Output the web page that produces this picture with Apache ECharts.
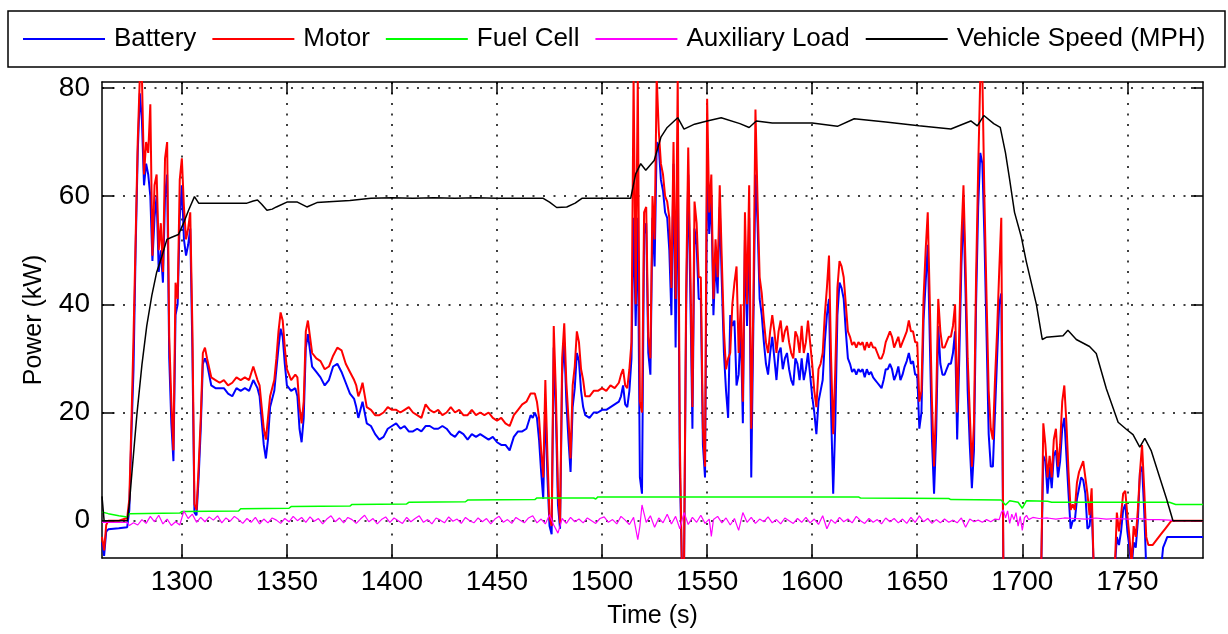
<!DOCTYPE html>
<html>
<head>
<meta charset="utf-8">
<script src="https://cdn.jsdelivr.net/npm/echarts@6/dist/echarts.min.js"></script>
<style>
html,body{margin:0;padding:0;background:#fff;}
#chart{width:1228px;height:634px;}
</style>
</head>
<body>
<div id="chart"></div>
<script>
// ---- data (time in s, values in kW / MPH) ----
const SERIES_NAMES = ['Battery', 'Motor', 'Fuel Cell', 'Auxiliary Load', 'Vehicle Speed (MPH)'];
const X_TICKS = [1300, 1350, 1400, 1450, 1500, 1550, 1600, 1650, 1700, 1750];
const Y_TICKS = [0, 20, 40, 60, 80];

const motor = [
[1262,-3],[1263,-5.5],[1264,-0.8],[1265,0],[1270,0],[1274,0.5],[1275,4],[1276,18],[1277,34],[1278,52],[1279,70],[1280,82],[1281,82],[1282,64],[1283,70],[1284,68],[1285,77],[1286,49],[1287,62],[1288,64],[1289,50],[1290,55],[1291,46],[1292,67],[1293,70],[1294,34],[1295,22],[1296,13],[1297,44],[1298,41],[1299,63],[1300,67],[1301,58],[1302,52],[1303,54],[1304,57],[1305,36],[1306,3],[1307,2],[1308,10],[1309,19],[1310,31],[1311,32],
[1312,30],[1314,26.5],[1316,26],[1318,25.5],[1320,26],[1322,25],[1324,25.5],[1326,26.5],[1328,26],[1330,26.5],[1332,26],[1334,28.5],[1336,26],[1337,25],[1338,21],[1339,17],[1340,15],[1341,19],[1342,23],[1344,26],[1345,30],[1346,35],[1347,38.5],[1348,37],[1349,32],[1350,28],[1352,26],[1354,27],[1355,26.5],[1356,21],[1357,18],[1358,22],[1359,35],[1360,37],[1361,34],[1362,31],[1364,30],[1366,29.5],[1368,28],[1370,28.5],[1372,30.5],[1374,32],[1376,31.5],[1378,29],[1380,27.5],[1382,26],[1383,25],[1384,23],[1385,24],[1386,25.5],[1388,21],[1390,20.5],[1392,19.5],[1394,19.5],[1396,20],[1398,21],[1400,20.5],[1402,20.5],[1404,20],[1406,20.5],[1408,21],[1410,20],[1412,19.5],[1414,19],[1416,21.5],[1418,20.5],[1420,20],[1422,20.5],[1424,19.5],[1426,20],[1428,21],[1430,20],[1432,20.5],[1434,19.5],[1436,19.5],[1438,20.5],[1440,19.5],[1442,20],[1444,19.5],[1446,20],[1448,19],[1450,18.5],[1452,19],[1454,18],[1456,17.5],[1458,19.5],[1460,20.5],[1462,21.5],[1464,22],[1466,23.5],[1467,23.5],[1468,23.5],
[1469,22],[1470,19],[1471,13],[1472,8],[1473,26],[1474,12],[1475,0.5],[1476,-1],[1477,36],[1478,24],[1479,6],[1480,-0.5],[1481,30],[1482,36.5],[1483,25.5],[1484,19],[1485,11.5],[1486,25],[1487,28.5],[1488,35],[1489,33],[1490,28],[1491,26],[1492,23],[1494,23],[1496,24],[1498,24],[1500,24.5],[1502,24],[1504,25],[1506,24.5],[1508,25.5],[1509,27],[1510,28],[1511,25],[1512,24.5],[1513,28],[1514,33],[1515,82],[1516,40],[1517,82],[1518,22],[1519,20],[1520,57],[1521,58],[1522,34],[1523,30],[1524,60],[1525,52],[1526,82],[1527,72],[1528,66],[1529,64],[1530,60],[1531,59],[1532,56],[1533,43],[1534,70],[1535,41],[1536,82],[1537,15],[1538,-9],[1539,-9],[1540,42],[1541,69],[1542,47],[1543,21],[1544,59],[1545,55],[1546,45],[1547,45],[1548,17],[1549,10],[1550,78],[1551,57],[1552,64],[1553,41],[1554,52],[1555,45],[1556,62],[1557,48],[1558,35],[1559,28],[1560,30],[1561,31],[1562,40],[1563,44],[1564,47],
[1565,31],[1566,40],[1567,22],[1568,57],[1569,40],[1570,62],[1571,17],[1572,40],[1573,76],[1574,59],[1575,45],[1576,42],[1577,37],[1578,33],[1579,31],[1580,35],[1581,38],[1582,35],[1583,31],[1584,35],[1585,37],[1586,33],[1587,35],[1588,36],[1589,33],[1590,31],[1591,30],[1592,35],[1593,34],[1594,31],[1595,36],[1596,31],[1597,33],[1598,37],[1599,33],[1600,29],[1601,24],[1602,21],[1603,28],[1604,29],[1605,31],[1606,38],[1607,43],[1608,49],[1609,30],[1610,16],[1611,28],[1612,43],[1613,48],[1614,47],[1615,45],[1616,40],[1617,35],[1618,34],[1619,32.5],[1620,33],[1621,32],[1622,33],[1623,32.5],[1624,33],[1625,31.5],[1626,33],[1627,32],[1628,33],[1629,32],[1630,32],[1631,31],[1632,30],[1633,30],[1634,31],[1635,33],[1636,34],[1637,35],[1638,34],[1639,32],[1640,33],[1641,34],[1642,32],[1643,33],[1644,34],[1645,35],[1646,37],[1647,35],[1648,35],[1649,33],[1650,33],[1651,22],[1652,24],[1653,41],[1654,50],[1655,57],[1656,40],[1657,22],[1658,10],[1659,22],[1660,41],[1661,35],[1662,32],[1663,32],[1664,33],[1665,34],[1666,34],[1667,36],[1668,40],[1669,20],[1670,35],[1671,52],[1672,62],[1673,47],[1674,30],[1675,20],[1676,10],[1677,18],[1678,45],[1679,65],[1680,82],[1681,82],[1682,59],[1683,41],[1684,24],[1685,17],[1686,15],[1687,26],[1688,35],[1689,46],[1690,56],
[1691,-9],[1709,-9],[1710,18],[1711,14],[1712,8],[1713,12],[1714,8],[1715,15],[1716,17],[1717,10],[1718,14],[1719,22],[1720,25],[1721,18],[1722,9],[1723,2],[1724,3],[1725,2],[1726,7],[1727,9],[1728,10],[1729,11],[1730,8],[1731,5],[1732,1],[1733,6],[1734,-9],[1744,-9],[1745,1.5],[1746,-2],[1747,1],[1748,5],[1749,5.5],[1750,1],[1751,-3],[1752,-8],[1753,-1],[1754,-3],[1755,2],[1756,9],[1757,14],[1758,6],[1759,-3],[1760,-4.5],[1762,-4.5],[1764,-3.5],[1766,-2.5],[1768,-1.5],[1770,-0.5],[1771,0],[1786,0]
];

const battery = [
[1262,-4],[1263,-6.5],[1264,-2],[1265,-1.6],[1270,-1.4],[1274,-1.2],[1275,2],[1276,16],[1277,28],[1278,50],[1279,68],[1280,79],[1281,74],[1282,62],[1283,66],[1284,64],[1285,60],[1286,48],[1287,56],[1288,60],[1289,46],[1290,50],[1291,44],[1292,60],[1293,64],[1294,30],[1295,18],[1296,11],[1297,38],[1298,40],[1299,56],[1300,62],[1301,52],[1302,49],[1303,51],[1304,54],[1305,32],[1306,1.5],[1307,1],[1308,8],[1309,17],[1310,29],[1311,30],
[1312,29],[1314,25],[1316,24.5],[1318,24.5],[1320,24.5],[1322,23.5],[1324,23],[1326,24.5],[1328,24],[1330,24.5],[1332,24],[1334,26],[1336,24.5],[1337,23],[1338,18.5],[1339,14],[1340,11.5],[1341,15],[1342,21],[1344,24],[1345,28],[1346,32],[1347,35.5],[1348,34],[1349,29],[1350,25],[1352,24],[1354,24.5],[1355,23],[1356,17],[1357,14.5],[1358,19],[1359,32],[1360,34.5],[1361,31.5],[1362,28.5],[1364,27.5],[1366,26.5],[1368,25],[1370,26],[1372,28.5],[1374,29],[1376,27.5],[1378,25.5],[1380,23.5],[1382,22.5],[1383,21],[1384,19],[1385,20.5],[1386,22],[1388,18],[1390,17.5],[1392,16],[1394,15],[1396,15.5],[1398,17],[1400,17.5],[1402,18],[1404,17],[1406,17.5],[1408,16.5],[1410,16.5],[1412,17],[1414,16.5],[1416,17.5],[1418,17.5],[1420,17],[1422,17],[1424,17.5],[1426,17],[1428,16],[1430,15.5],[1432,16.5],[1434,16],[1436,15],[1438,16],[1440,15.5],[1442,16],[1444,15.5],[1446,15],[1448,15.5],[1450,14.5],[1452,14],[1454,14],[1456,13],[1458,15.5],[1460,16.5],[1462,16.5],[1464,17],[1466,19.5],[1467,19],[1468,20],
[1469,19],[1470,15],[1471,9],[1472,4],[1473,22],[1474,8],[1475,-1],[1476,-2.5],[1477,32],[1478,20],[1479,3],[1480,-1.5],[1481,27],[1482,33],[1483,22],[1484,15],[1485,9],[1486,21],[1487,24.5],[1488,31],[1489,29.5],[1490,24],[1491,21],[1492,19.5],[1494,19],[1496,20],[1498,20],[1500,20.5],[1502,20.5],[1504,21],[1506,21.5],[1508,22],[1509,23],[1510,25],[1511,21.5],[1512,21],[1513,24],[1514,30],[1515,56],[1516,36],[1517,56],[1518,8],[1519,5],[1520,53],[1521,55],[1522,31],[1523,27],[1524,56],[1525,47],[1526,70],[1527,69],[1528,63],[1529,61],[1530,57],[1531,56],[1532,50],[1533,38],[1534,66],[1535,32],[1536,68],[1537,10],[1538,-9],[1539,-9],[1540,38],[1541,64],[1542,42],[1543,17],[1544,54],[1545,51],[1546,41],[1547,41],[1548,14],[1549,8],[1550,66],[1551,53],[1552,60],[1553,38],[1554,48],[1555,42],[1556,58],[1557,44],[1558,31],[1559,24],[1560,19],[1561,38],[1562,36],[1563,37],[1564,25],
[1565,27],[1566,36],[1567,18],[1568,52],[1569,36],[1570,56],[1571,8],[1572,36],[1573,64],[1574,55],[1575,41],[1576,38],[1577,33],[1578,29],[1579,27],[1580,31],[1581,34],[1582,30],[1583,26],[1584,31],[1585,32],[1586,28],[1587,30],[1588,31],[1589,28],[1590,26],[1591,25],[1592,30],[1593,29],[1594,26],[1595,30],[1596,26],[1597,28],[1598,31],[1599,27],[1600,23],[1601,20],[1602,16],[1603,22],[1604,24],[1605,26],[1606,33],[1607,38],[1608,41],[1609,20],[1610,5],[1611,18],[1612,38],[1613,44],[1614,43],[1615,41],[1616,35],[1617,30],[1618,29],[1619,27.5],[1620,28],[1621,27],[1622,28],[1623,27.5],[1624,28],[1625,26.5],[1626,28],[1627,27],[1628,27.5],[1629,26.5],[1630,26],[1631,25.5],[1632,25],[1633,24.5],[1634,26],[1635,28],[1636,28],[1637,29],[1638,28],[1639,26],[1640,27],[1641,28.5],[1642,26],[1643,27],[1644,28.5],[1645,29.5],[1646,31],[1647,29],[1648,29.5],[1649,27],[1650,27],[1651,17],[1652,20],[1653,37],[1654,44],[1655,51],[1656,33],[1657,15],[1658,5],[1659,16],[1660,36],[1661,29],[1662,27],[1663,27],[1664,28],[1665,29],[1666,29],[1667,31],[1668,35],[1669,15],[1670,30],[1671,47],[1672,58],[1673,42],[1674,24],[1675,14],[1676,6],[1677,13],[1678,40],[1679,58],[1680,68],[1681,66],[1682,52],[1683,34],[1684,16],[1685,10],[1686,10],[1687,20],[1688,30],[1689,40],[1690,42],
[1691,-9],[1709,-9],[1710,12],[1711,11],[1712,5],[1713,10],[1714,6],[1715,12],[1716,13],[1717,8],[1718,11],[1719,17],[1720,19],[1721,12],[1722,5],[1723,-1.5],[1724,0],[1725,0],[1726,4],[1727,6],[1728,8],[1729,7.5],[1730,5],[1731,-1.5],[1732,-1],[1733,3],[1734,-9],[1744,-9],[1745,-3],[1746,-4.5],[1747,-2],[1748,2],[1749,3],[1750,-2],[1751,-5],[1752,-9],[1753,-4],[1754,-5],[1755,0],[1756,9],[1757,10],[1758,2],[1759,-9],[1766,-9],[1767,-5],[1768,-4],[1769,-3],[1786,-3]
];

const fuelCell = [
[1262,1.6],[1265,1.3],[1270,0.9],[1274,0.7],[1275,1.3],[1299,1.4],[1300,1.7],[1327,1.8],[1328,2.2],[1351,2.3],[1352,2.6],[1380,2.7],[1381,3.0],[1407,3.1],[1408,3.4],[1435,3.5],[1436,3.8],[1468,3.9],[1469,4.2],[1496,4.2],[1497,4.0],[1498,4.4],[1622,4.4],[1623,4.2],[1665,4.1],[1666,3.9],[1690,3.8],[1692,2.9],[1694,3.7],[1698,3.4],[1700,2.3],[1702,3.7],[1712,3.6],[1714,3.4],[1770,3.4],[1773,3.0],[1786,3.0]
];

const auxLoad = [
[1262,-0.3],[1274,-0.3],[1275,-0.9],[1277,-0.4],[1279,-0.8],[1281,0.2],[1283,-0.5],[1285,0.8],[1287,-0.2],[1289,1.0],[1291,-0.6],[1293,0.3],[1295,-0.9],[1297,-0.2],[1299,-0.8],[1301,1.8],[1303,0.4],[1305,1.2],[1307,-0.3],[1309,0.6],[1311,-0.2],[1313,0.7],[1315,0.1],[1317,0.9],[1319,-0.4],[1321,0.5],[1323,-0.1],[1325,0.8],[1327,0.2],[1329,-0.5],[1331,0.4],[1333,-0.3],[1335,0.6],[1337,-0.6],[1339,0.3],[1341,-0.4],[1343,0.5],[1345,0.1],[1347,-0.5],[1349,0.4],[1351,-0.2],[1353,0.8],[1355,0],[1357,0.6],[1359,-0.3],[1361,0.7],[1363,-0.1],[1365,0.4],[1367,-0.6],[1369,0.3],[1371,0.9],[1373,-0.2],[1375,0.5],[1377,-0.4],[1379,0.6],[1381,0.2],[1383,-0.5],[1385,0.3],[1387,1.0],[1389,-0.2],[1391,0.4],[1393,-0.6],[1395,0.2],[1397,0.7],[1399,-0.3],[1401,0.5],[1403,0],[1405,-0.5],[1407,0.6],[1409,-0.2],[1411,0.4],[1413,0.9],[1415,-0.3],[1417,0.2],[1419,-0.6],[1421,0.5],[1423,0.1],[1425,-0.4],[1427,0.7],[1429,-0.1],[1431,0.3],[1433,-0.5],[1435,0.6],[1437,0],[1439,-0.4],[1441,0.5],[1443,-0.2],[1445,0.4],[1447,-0.6],[1449,0.3],[1451,0.8],[1453,-0.3],[1455,0.2],[1457,-0.5],[1459,0.6],[1461,0.1],[1463,-0.4],[1465,0.5],[1467,0.9],[1469,-0.4],[1471,0.3],[1473,-0.6],[1475,1.1],[1477,-0.8],[1479,-2.3],[1481,0.4],[1483,-0.5],[1485,0.6],[1487,-0.2],[1489,0.3],[1491,-0.4],[1493,0.5],[1495,0],[1497,-0.5],[1499,0.4],[1501,0.7],[1503,-0.3],[1505,0.2],[1507,-0.6],[1509,0.8],[1511,0.1],[1513,-0.7],[1515,0.6],[1517,-3.5],[1518,-1],[1519,2.9],[1521,-0.3],[1523,0.9],[1525,-1.2],[1527,0.5],[1529,-0.4],[1531,1.2],[1533,-0.6],[1535,0.8],[1537,-1.5],[1539,1.5],[1541,-0.7],[1543,0.6],[1545,-0.3],[1547,1.0],[1549,-0.5],[1551,0.3],[1552,-2.9],[1553,0.2],[1555,0.8],[1557,-0.4],[1559,0.5],[1561,-0.8],[1563,0.4],[1565,-1.8],[1567,1.5],[1569,-0.3],[1571,0.6],[1573,-0.5],[1575,0.3],[1577,-0.2],[1579,0.7],[1581,-0.4],[1583,0.2],[1585,-0.6],[1587,0.5],[1589,0],[1591,-0.5],[1593,0.4],[1595,-0.3],[1597,0.6],[1599,-0.4],[1601,0.3],[1603,-0.7],[1605,0.9],[1607,-1.5],[1609,0.2],[1611,-0.5],[1613,0.6],[1615,-0.2],[1617,0.3],[1619,-0.4],[1621,0.8],[1623,0],[1625,-0.5],[1627,0.4],[1629,-0.3],[1631,0.2],[1633,-0.6],[1635,0.5],[1637,-0.2],[1639,0.4],[1641,-0.4],[1643,0.3],[1645,-0.5],[1647,0.6],[1649,-0.3],[1651,0.9],[1653,-0.2],[1655,0.4],[1657,-0.5],[1659,0.2],[1661,-0.4],[1663,0.3],[1665,-0.3],[1667,0.1],[1669,-0.4],[1671,0.5],[1673,-1.2],[1675,0.3],[1677,-0.2],[1679,0.1],[1681,-0.3],[1683,0.2],[1685,-0.2],[1687,0.3],[1689,0.2],[1690,1.5],[1691,2.0],[1692,0.5],[1693,1.8],[1694,-0.5],[1695,1.2],[1696,0.2],[1697,1.5],[1698,-1.0],[1699,0.8],[1700,-1.8],[1701,0.5],[1702,1.0],[1703,0.2],[1705,0.6],[1708,0.4],[1712,0.5],[1716,0.3],[1720,0.5],[1725,0.4],[1730,0.3],[1735,0.5],[1740,0.3],[1745,0.4],[1750,0.3],[1755,0.4],[1760,0.2],[1765,0.2],[1770,0.1],[1772,0],[1786,0]
];

const speed = [
[1262,4.5],[1263,0],[1274,0],[1275,3],[1276.2,8.7],[1278.6,19.6],[1281,28.8],[1283.3,36],[1285.7,41.6],[1288,45.9],[1290.5,48.9],[1292.9,52],[1295.2,52.4],[1298.4,52.9],[1300.8,55],[1303.2,57.4],[1306,59.9],[1308,58.7],[1331,58.7],[1334,59.1],[1336,59.3],[1338,58.5],[1340.5,57.4],[1343,57.6],[1345,58],[1350,58.9],[1355,58.9],[1359.5,58],[1364.3,58.8],[1372,59],[1380,59.2],[1390,59.6],[1400,59.7],[1410,59.6],[1420,59.7],[1430,59.6],[1440,59.7],[1450,59.6],[1460,59.6],[1472,59.6],[1475,58.9],[1478.4,57.9],[1483.2,58],[1487.2,58.7],[1490.4,59.6],[1500,59.6],[1513.6,59.6],[1516,64.1],[1518.4,66],[1520.8,64.8],[1524.8,66.6],[1528,70.9],[1531,72.7],[1536,74.5],[1539,72.4],[1544,73.3],[1550,73.9],[1556.7,74.5],[1565.6,73.4],[1570,72.7],[1573.4,73.9],[1581,73.5],[1600,73.5],[1612,72.9],[1620,74.3],[1635,73.7],[1650.8,73],[1666,72.4],[1675.5,73.9],[1678.6,73],[1681.7,74.9],[1686.4,73.4],[1689.5,72.7],[1692,68],[1694,63],[1696.3,57],[1699.5,52.5],[1701.9,47.9],[1706.7,40],[1709.5,33.5],[1711.4,33.9],[1719.4,34.2],[1721.7,35.2],[1725.7,33.5],[1732,32.2],[1735.2,30.9],[1740,24.4],[1745.6,18.2],[1749.5,16.9],[1752.7,15.9],[1755.9,13.6],[1758.3,15.2],[1761.4,12.9],[1765.4,8],[1768.6,4.1],[1771.7,0],[1786,0]
];

// ---- chart ----
const FONT = '"Liberation Sans", Arial, Helvetica, sans-serif';
const X_MIN = 1262, X_MAX = 1786, Y_MIN = -6.9, Y_MAX = 81.1;

function frameAxis(extra) {
  return Object.assign({
    type: 'value',
    axisLine: { show: true, onZero: false, lineStyle: { color: '#000', width: 1.5 } },
    splitLine: { show: false }
  }, extra);
}

const chart = echarts.init(document.getElementById('chart'), null, { renderer: 'canvas' });
chart.setOption({
  animation: false,
  backgroundColor: '#fff',
  textStyle: { fontFamily: FONT },
  grid: { left: 102, right: 25, top: 82, bottom: 69, containLabel: false },
  graphic: [{
    type: 'rect', silent: true,
    shape: { x: 8, y: 11, width: 1217, height: 56 },
    style: { fill: 'none', stroke: '#000', lineWidth: 1.5 }
  }],
  legend: {
    data: SERIES_NAMES,
    left: 23, top: 26, padding: 0,
    icon: 'rect',
    itemWidth: 82, itemHeight: 2, itemGap: 16,
    textStyle: { fontSize: 26, color: '#000', fontFamily: FONT, padding: [0, 0, 0, 4] }
  },
  xAxis: [
    frameAxis({
      min: X_MIN, max: X_MAX, position: 'bottom',
      name: 'Time (s)', nameLocation: 'middle', nameGap: 46,
      nameTextStyle: { fontSize: 25, color: '#000', fontFamily: FONT },
      axisTick: { show: true, inside: true, length: 12, customValues: X_TICKS, lineStyle: { color: '#000', width: 1.5 } },
      axisLabel: { show: true, customValues: X_TICKS, fontSize: 28, color: '#000', margin: 10, fontFamily: FONT,
                   formatter: function (v) { return String(v); } },
      splitLine: { show: true, lineStyle: { color: '#000', width: 1.5, type: [2, 8.5] } }
    }),
    frameAxis({
      min: X_MIN, max: X_MAX, position: 'top',
      axisTick: { show: true, inside: true, length: 12, customValues: X_TICKS, lineStyle: { color: '#000', width: 1.5 } },
      axisLabel: { show: false }
    })
  ],
  yAxis: [
    frameAxis({
      min: Y_MIN, max: Y_MAX, position: 'left',
      name: 'Power (kW)', nameLocation: 'middle', nameGap: 55, nameRotate: 90,
      nameTextStyle: { fontSize: 25, color: '#000', fontFamily: FONT },
      axisTick: { show: true, inside: true, length: 12, customValues: Y_TICKS, lineStyle: { color: '#000', width: 1.5 } },
      axisLabel: { show: true, customValues: Y_TICKS, fontSize: 28, color: '#000', margin: 12, fontFamily: FONT },
      splitLine: { show: true, lineStyle: { color: '#000', width: 1.5, type: [2, 8.5] } }
    }),
    frameAxis({
      min: Y_MIN, max: Y_MAX, position: 'right',
      axisTick: { show: true, inside: true, length: 12, customValues: Y_TICKS, lineStyle: { color: '#000', width: 1.5 } },
      axisLabel: { show: false }
    })
  ],
  series: [
    { name: 'Battery', type: 'line', data: battery, symbol: 'none', clip: true,
      lineStyle: { color: '#0000ff', width: 2 }, itemStyle: { color: '#0000ff' } },
    { name: 'Motor', type: 'line', data: motor, symbol: 'none', clip: true,
      lineStyle: { color: '#ff0000', width: 2 }, itemStyle: { color: '#ff0000' } },
    { name: 'Fuel Cell', type: 'line', data: fuelCell, symbol: 'none', clip: true,
      lineStyle: { color: '#00ff00', width: 1.5 }, itemStyle: { color: '#00ff00' } },
    { name: 'Auxiliary Load', type: 'line', data: auxLoad, symbol: 'none', clip: true,
      lineStyle: { color: '#ff00ff', width: 1.2 }, itemStyle: { color: '#ff00ff' } },
    { name: 'Vehicle Speed (MPH)', type: 'line', data: speed, symbol: 'none', clip: true,
      lineStyle: { color: '#000000', width: 1.5 }, itemStyle: { color: '#000000' } }
  ]
});
</script>
</body>
</html>
